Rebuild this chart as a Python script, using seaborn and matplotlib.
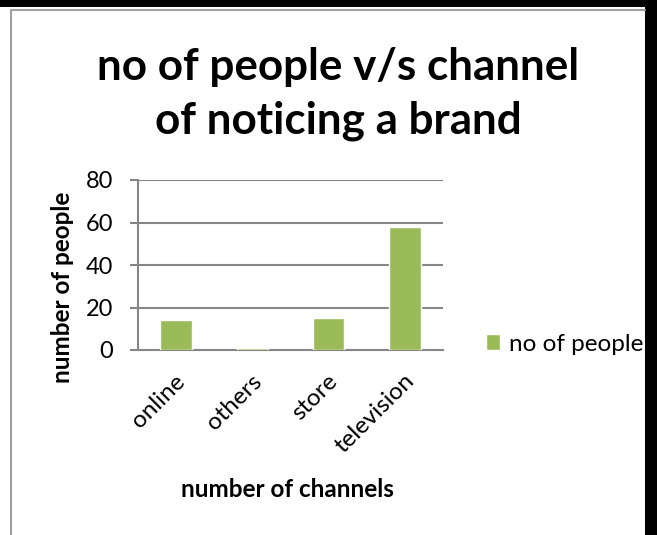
import matplotlib
matplotlib.use("Agg")
import matplotlib.pyplot as plt
import matplotlib.patches as mpatches
import matplotlib.transforms as mtransforms
import seaborn as sns
import pandas as pd

channels = ["online", "others", "store", "television"]
people = [14, 1, 15, 58]
y_ticks = [0, 20, 40, 60, 80]

sns.set_theme(style="white")
plt.rcParams["font.family"] = ["Lato", "DejaVu Sans"]
plt.rcParams["text.color"] = "black"
plt.rcParams["axes.labelcolor"] = "black"

W, H = 657, 535
fig = plt.figure(figsize=(W / 100, H / 100), dpi=100)
fig.patch.set_facecolor("white")

# plot area in pixels: left 138, right 443, top 180, bottom 350
ax = fig.add_axes([138 / W, 1 - 350 / H, (443 - 138) / W, (350 - 180) / H])

df = pd.DataFrame({"channel": channels, "count": people})
sns.barplot(data=df, x="channel", y="count", color="#9BBB59", width=0.41,
            saturation=1, ax=ax, zorder=3, label="no of people")

grid_c = "#868686"
ax.set_ylim(0, 80)
ax.set_yticks(y_ticks)
ax.set_xlim(-0.5, len(channels) - 0.5)
for v in y_ticks[1:]:
    ax.axhline(v, color=grid_c, lw=1.5, zorder=1)
for s in ["top", "right"]:
    ax.spines[s].set_visible(False)
for s in ["left", "bottom"]:
    ax.spines[s].set_color(grid_c)
    ax.spines[s].set_linewidth(1.5)
ax.tick_params(axis="y", which="major", direction="out", length=6, width=1.5,
               color=grid_c, left=True, labelsize=17, pad=12, labelcolor="black")
ax.tick_params(axis="x", length=0, labelsize=17.5, pad=20, labelcolor="black")
shift = mtransforms.ScaledTranslation(6 / 100, 0, fig.dpi_scale_trans)
for lbl in ax.get_xticklabels():
    lbl.set_rotation(45)
    lbl.set_ha("right")
    lbl.set_va("center")
    lbl.set_rotation_mode("anchor")
    lbl.set_transform(lbl.get_transform() + shift)

ax.set_xlabel("number of channels", fontsize=17.5, fontweight="bold")
ax.set_ylabel("number of people", fontsize=17.5, fontweight="bold")
ax.xaxis.set_label_coords(0.489, -0.82)
ax.yaxis.set_label_coords(-0.246, 0.37)
ax.xaxis.label.set_va("center")
ax.yaxis.label.set_va("center")

fig.text(338 / W, 1 - 94 / H, "no of people v/s channel\nof noticing a brand",
         ha="center", va="center", fontsize=31.7, fontweight="bold",
         linespacing=1.4, color="black")

ax.legend(loc="center left", bbox_to_anchor=(1.141, 0.035), frameon=False,
          fontsize=17.5, handlelength=0.58, handleheight=0.58,
          handletextpad=0.35, borderpad=0, borderaxespad=0)

# page frame
fig.add_artist(mpatches.Rectangle((0, 1 - 7 / H), 1, 7 / H, transform=fig.transFigure,
                                  color="black", lw=0))
fig.add_artist(mpatches.Rectangle((645 / W, 0), 12 / W, 1, transform=fig.transFigure,
                                  color="black", lw=0))
fig.add_artist(plt.Line2D([11 / W, 11 / W], [0, 1 - 10 / H], transform=fig.transFigure,
                          color="#A0A0A0", lw=1.5))
fig.add_artist(plt.Line2D([11 / W, 645 / W], [1 - 10 / H, 1 - 10 / H],
                          transform=fig.transFigure, color="#A0A0A0", lw=1.5))

fig.savefig("out.png", dpi=100)
